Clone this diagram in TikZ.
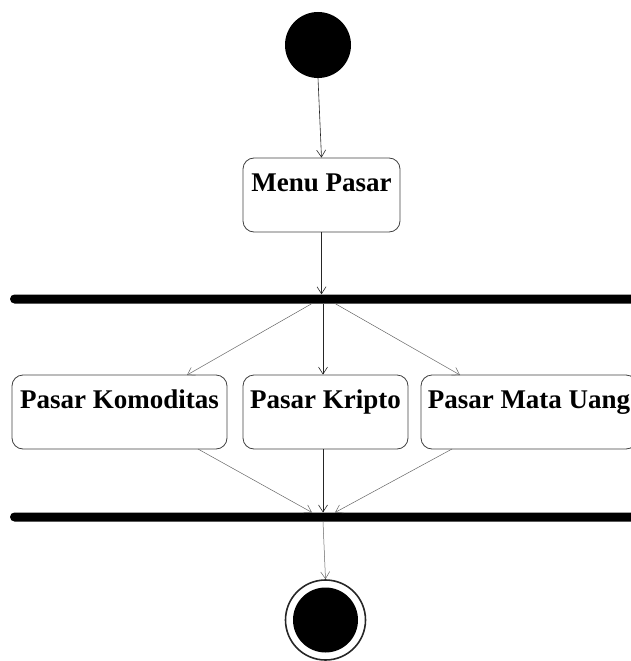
\documentclass[tikz,border=0pt]{standalone}
\usepackage{fontspec}
\setmainfont{Liberation Serif}
\usetikzlibrary{arrows.meta}
\begin{document}
\begin{tikzpicture}[x=1pt,y=-1pt,
  act/.style={draw=black!75, line width=0.8pt, rounded corners=11pt, inner sep=0pt,
    text height=33pt, text depth=41pt, minimum height=74pt,
    font=\fontsize{27}{30}\selectfont\bfseries},
  barnode/.style={fill=black, draw=none, rounded corners=4.5pt, minimum height=9pt, inner sep=0pt},
  flow/.style={draw=black!85, line width=0.6pt, -{Straight Barb[length=7pt,width=9pt]}},
  lflow/.style={draw=black!60, line width=0.5pt, -{Straight Barb[length=7pt,width=9pt]}}
]
\useasboundingbox (0,0) rectangle (631,661);
% start
\node[circle, fill=black, minimum size=66pt, inner sep=0pt] (start) at (318,45) {};
% activities
\node[act, minimum width=157pt] (menu) at (321.5,195) {Menu Pasar};
\node[act, minimum width=215pt] (kom) at (119.5,412) {Pasar Komoditas};
\node[act, minimum width=165pt] (kri) at (325.5,412) {Pasar Kripto};
\node[act, minimum width=216pt] (mu) at (529,412) {Pasar Mata Uang};
% bars
\node[barnode, minimum width=640pt] (fork) at (330,299) {};
\node[barnode, minimum width=640pt] (join) at (330,517) {};
% end
\node[circle, draw=black!85, line width=1.6pt, minimum size=80pt, inner sep=0pt] (endo) at (325.5,620) {};
\node[circle, fill=black, minimum size=65pt, inner sep=0pt] (endi) at (325.5,620) {};
% coordinates on bars
\coordinate (f1) at (312,303.5);
\coordinate (f2) at (323,303.5);
\coordinate (f3) at (335,303.5);
\coordinate (j1) at (312,512.5);
\coordinate (j2) at (323,512.5);
\coordinate (j3) at (335,512.5);
\coordinate (kombot) at (198,449);
\coordinate (mubot) at (452,449);
\coordinate (komtop) at (187,375);
\coordinate (mutop) at (460,375);
% connectors
\draw[flow] (start.south) -- (menu.north);
\draw[flow] (menu.south) -- (fork.north -| menu.south);
\draw[lflow] (f1) -- (komtop);
\draw[flow] (f2) -- (kri.north -| f2);
\draw[lflow] (f3) -- (mutop);
\draw[lflow] (kombot) -- (j1);
\draw[flow] (kri.south -| j2) -- (j2);
\draw[lflow] (mubot) -- (j3);
\draw[lflow] (join.south -| j2) -- (endo.north);
\end{tikzpicture}
\end{document}
